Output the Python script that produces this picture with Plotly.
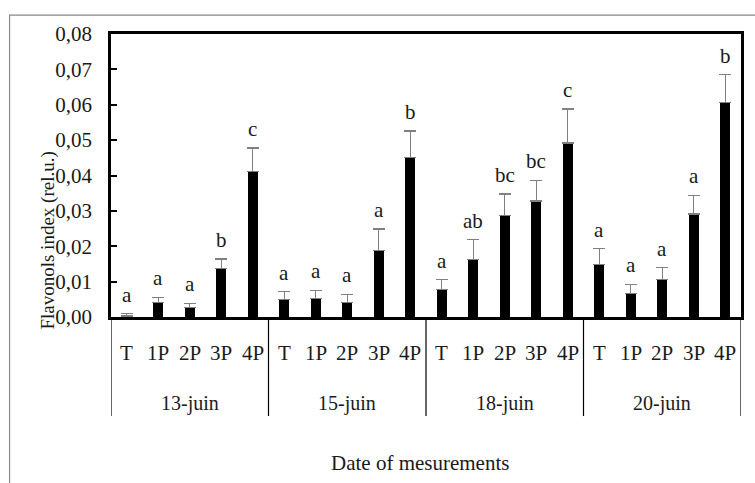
import plotly.graph_objects as go

dates = ["13-juin", "15-juin", "18-juin", "20-juin"]
treatments = ["T", "1P", "2P", "3P", "4P"]

means_13 = [0.0003, 0.0040, 0.0028, 0.0137, 0.0412]
means_15 = [0.0050, 0.0053, 0.0041, 0.0187, 0.0450]
means_18 = [0.0078, 0.0162, 0.0286, 0.0328, 0.0492]
means_20 = [0.0148, 0.0066, 0.0106, 0.0291, 0.0606]

err_13 = [0.0006, 0.0016, 0.0011, 0.0027, 0.0066]
err_15 = [0.0022, 0.0022, 0.0023, 0.0062, 0.0076]
err_18 = [0.0028, 0.0056, 0.0062, 0.0059, 0.0096]
err_20 = [0.0045, 0.0027, 0.0033, 0.0053, 0.0079]

letters_13 = ["a", "a", "a", "b", "c"]
letters_15 = ["a", "a", "a", "a", "b"]
letters_18 = ["a", "ab", "bc", "bc", "c"]
letters_20 = ["a", "a", "a", "a", "b"]

y_ticks = [0.00, 0.01, 0.02, 0.03, 0.04, 0.05, 0.06, 0.07, 0.08]

means = means_13 + means_15 + means_18 + means_20
errs = err_13 + err_15 + err_18 + err_20
letters = letters_13 + letters_15 + letters_18 + letters_20
n_t = len(treatments)
xs = [i + 0.5 for i in range(len(means))]

FONT = "Liberation Serif, Times New Roman, serif"
TXT = "#1a1a1a"

fig = go.Figure()
fig.add_trace(go.Bar(
    x=xs, y=means, width=0.32,
    marker=dict(color="black", line=dict(width=0)),
    error_y=dict(type="data", array=errs, arrayminus=[0] * len(errs),
                 symmetric=False, color="#808080", thickness=1.2, width=6),
    showlegend=False, hoverinfo="skip",
))

ann = []
for x, m, e, l in zip(xs, means, errs, letters):
    ann.append(dict(x=x, y=m + e, xref="x", yref="y", text=l, showarrow=False,
                    yanchor="bottom", yshift=5, font=dict(family=FONT, size=21, color=TXT)))
for i, x in enumerate(xs):
    ann.append(dict(x=x, y=-0.127, xref="x", yref="paper", text=treatments[i % n_t],
                    showarrow=False, yanchor="middle", font=dict(family=FONT, size=21, color=TXT)))
for g, d in enumerate(dates):
    ann.append(dict(x=g * n_t + n_t / 2, y=-0.304, xref="x", yref="paper", text=d,
                    showarrow=False, yanchor="middle", font=dict(family=FONT, size=20, color=TXT)))
ann.append(dict(x=0.49, y=-0.516, xref="paper", yref="paper", text="Date of mesurements",
                showarrow=False, yanchor="middle", font=dict(family=FONT, size=21, color=TXT)))
ann.append(dict(x=-0.10, y=0.27, xref="paper", yref="paper", text="Flavonols index (rel.u.)",
                textangle=-90, showarrow=False, xanchor="center", yanchor="middle",
                font=dict(family=FONT, size=19, color=TXT)))

shapes = []
for g in range(len(dates) + 1):
    shapes.append(dict(type="line", xref="x", yref="paper", x0=g * n_t, x1=g * n_t,
                       y0=0, y1=-0.35, line=dict(color="black", width=1.2)))
shapes.append(dict(type="rect", xref="paper", yref="paper", x0=-0.161, x1=1.06,
                   y0=1.067, y1=-0.65, line=dict(color="#888888", width=1.2), layer="below"))

fig.update_layout(
    width=755, height=483,
    margin=dict(l=111, r=11, t=34, b=166),
    paper_bgcolor="white", plot_bgcolor="white",
    separators=",.",
    bargap=0,
    annotations=ann, shapes=shapes,
    font=dict(family=FONT, color=TXT),
)
fig.update_xaxes(range=[0, len(means)], showticklabels=False, ticks="",
                 showgrid=False, zeroline=False, showline=True, linecolor="black",
                 linewidth=2.5, mirror=True)
fig.update_yaxes(range=[0, 0.08], tickvals=y_ticks, tickformat=".2f", ticks="inside",
                 ticklen=6, tickwidth=1.5, tickcolor="black", showgrid=False, zeroline=False,
                 showline=True, linecolor="black", linewidth=2.5, mirror=True,
                 ticklabelstandoff=12, tickfont=dict(family=FONT, size=21, color=TXT))

fig.write_html("out.html")
